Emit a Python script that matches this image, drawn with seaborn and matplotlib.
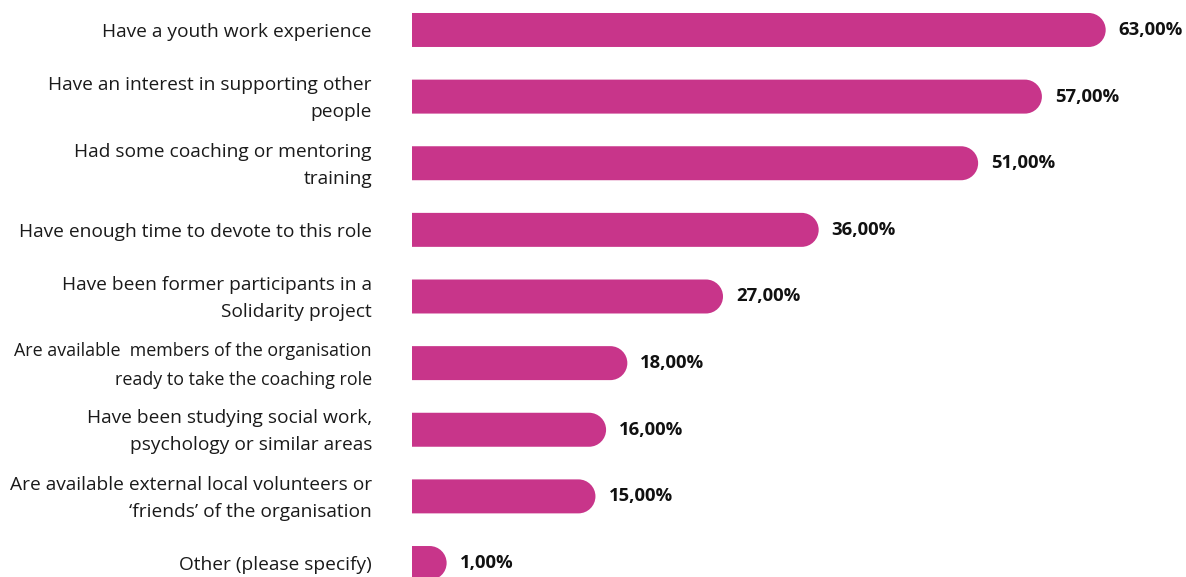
import matplotlib
matplotlib.use("Agg")
import matplotlib.pyplot as plt
import seaborn as sns
import pandas as pd
from matplotlib.path import Path
from matplotlib.patches import PathPatch
from matplotlib.transforms import ScaledTranslation

# Survey answers
categories = [
    "Have a youth work experience",
    "Have an interest in supporting other\npeople",
    "Had some coaching or mentoring\ntraining",
    "Have enough time to devote to this role",
    "Have been former participants in a\nSolidarity project",
    "Are available  members of the organisation\nready to take the coaching role",
    "Have been studying social work,\npsychology or similar areas",
    "Are available external local volunteers or\n\u2018friends\u2019 of the organisation",
    "Other (please specify)",
]
values = [63, 57, 51, 36, 27, 18, 16, 15, 1]
value_labels = ["63,00%", "57,00%", "51,00%", "36,00%", "27,00%",
                "18,00%", "16,00%", "15,00%", "1,00%"]

bar_color = "#C8358A"
cap_px = 24   # rounded end sticks out past the value
gap_px = 13

sns.set_style("white")
plt.rcParams["font.family"] = ["Open Sans", "DejaVu Sans"]

W, H = 1186, 577
fig = plt.figure(figsize=(W / 100, H / 100), dpi=100)
ax = fig.add_axes([412 / W, 0, (W - 412) / W, 1])

df = pd.DataFrame({"cat": categories, "val": values})
sns.barplot(data=df, x="val", y="cat", color=bar_color, width=0.51,
            saturation=1, ax=ax)

ax.set_xlim(0, (W - 412) / 10.63)
ax.set_ylim(8.21, -0.45)
ax.set_xlabel("")
ax.set_ylabel("")
ax.set_xticks([])
sns.despine(ax=ax, left=True, bottom=True)
ax.tick_params(axis="y", length=0, pad=28.8, labelsize=13.8, labelcolor="#1a1a1a")
shift = ScaledTranslation(0, -1.5 / 72, fig.dpi_scale_trans)
for t in ax.get_yticklabels():
    t.set_linespacing(1.65)
    t.set_va("center")
    t.set_transform(t.get_transform() + shift)
    if t.get_text().startswith("Are available  members"):
        # this one was squeezed a bit in the original
        t.set_fontsize(12.9)
        t.set_linespacing(1.76)

fig.canvas.draw()
# swap square bars for bars with a rounded right end (pixel space)
for p, lab in zip(list(ax.patches), value_labels):
    bb = p.get_window_extent()
    x0, y0, x1, y1 = bb.x0, bb.y0, bb.x1 + cap_px, bb.y1
    r = (y1 - y0) / 2
    k = 0.5523 * r
    verts = [(x0, y0), (x1 - r, y0),
             (x1 - r + k, y0), (x1, y0 + r - k), (x1, y0 + r),
             (x1, y0 + r + k), (x1 - r + k, y1), (x1 - r, y1),
             (x0, y1), (x0, y0)]
    codes = [Path.MOVETO, Path.LINETO,
             Path.CURVE4, Path.CURVE4, Path.CURVE4,
             Path.CURVE4, Path.CURVE4, Path.CURVE4,
             Path.LINETO, Path.CLOSEPOLY]
    ax.add_patch(PathPatch(Path(verts, codes), facecolor=bar_color,
                           edgecolor="none", transform=None, clip_on=False))
    p.set_visible(False)
    ax.text(x1 + gap_px, (y0 + y1) / 2, lab, transform=None,
            ha="left", va="center", fontsize=13.3, fontweight="bold",
            fontstretch="normal", color="#111111")

fig.savefig("out.png", dpi=100)
